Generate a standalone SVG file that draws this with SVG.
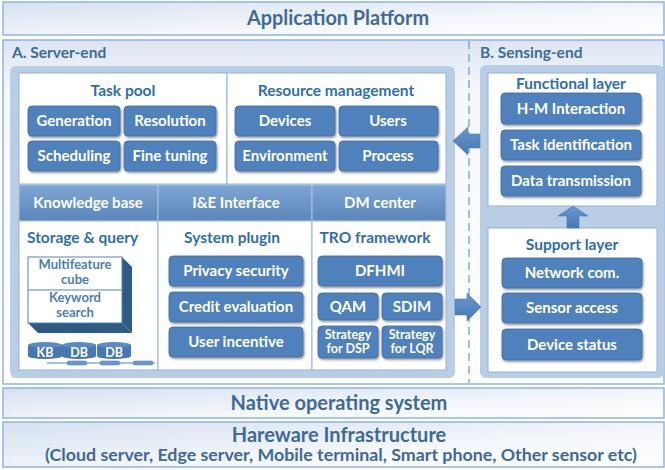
<svg xmlns="http://www.w3.org/2000/svg" width="665" height="470" viewBox="0 0 665 470">
<defs>
<linearGradient id="gBar" x1="0" y1="0" x2="1" y2="1">
<stop offset="0" stop-color="#d5e1f0"/><stop offset="0.6" stop-color="#f4f7fb"/><stop offset="1" stop-color="#ffffff"/>
</linearGradient>
<linearGradient id="gMain" x1="0" y1="0" x2="0" y2="1">
<stop offset="0" stop-color="#dbe5f1"/><stop offset="0.15" stop-color="#f5f8fc"/><stop offset="1" stop-color="#ffffff"/>
</linearGradient>
<linearGradient id="gBand" x1="0" y1="0" x2="0" y2="1">
<stop offset="0" stop-color="#7ea6d4"/><stop offset="1" stop-color="#5a86bb"/>
</linearGradient>
<linearGradient id="gArrow" x1="0" y1="0" x2="0" y2="1">
<stop offset="0" stop-color="#6a98cf"/><stop offset="1" stop-color="#4677b3"/>
</linearGradient>
<filter id="sh" x="-10%" y="-20%" width="125%" height="150%">
<feDropShadow dx="1" dy="1.5" stdDeviation="1" flood-color="#000" flood-opacity="0.45"/>
</filter>
<style>
text{font-family:Lato,"Open Sans","Liberation Sans",sans-serif;font-weight:bold}
.bar{fill:url(#gBar);stroke:#8eb4e3;stroke-width:1.5}
.hdr{fill:#3e6a98;font-size:20px;text-anchor:middle}
.sec{fill:#3e6a98;font-size:15.5px}
.panel{fill:#b9cde5}
.wp{fill:#ffffff;stroke:#8eb4e3;stroke-width:1}
.ttl{fill:#2e6eb0;font-size:15.5px;text-anchor:middle}
.btn{fill:#4f81bd;stroke:#3f6c9f;stroke-width:0.8;filter:url(#sh)}
.bt{fill:#ffffff;font-size:15px;text-anchor:middle}
.bs{fill:#ffffff;font-size:12.5px;text-anchor:middle}
.band{fill:url(#gBand);stroke:#a9c3e3;stroke-width:1}
.cube{fill:#4a7eb8;font-size:13px;text-anchor:middle}
.arr{fill:url(#gArrow);stroke:#4a7ab3;stroke-width:0.6}
</style>
</defs>

<g id="application-platform">
<rect class="bar" x="3" y="2" width="661" height="33"/>
<text class="hdr" x="338" y="25" textLength="182" lengthAdjust="spacingAndGlyphs">Application Platform</text>
</g>

<g id="middle-frame">
<rect x="3" y="40" width="661" height="344" fill="url(#gMain)" stroke="#8eb4e3" stroke-width="1.5"/>
<line x1="469" y1="41" x2="469" y2="383" stroke="#5b9bd5" stroke-width="1.2" stroke-dasharray="8,5"/>
</g>

<g id="server-end">
<text class="sec" x="12" y="58">A. Server-end</text>
<rect class="panel" x="10" y="66" width="445" height="312" rx="6"/>
</g>

<g id="task-pool">
<rect class="wp" x="19" y="73" width="208" height="111"/>
<text class="ttl" x="123" y="96">Task pool</text>
<rect class="btn" x="28" y="106" width="92" height="30" rx="4"/>
<text class="bt" x="74" y="126">Generation</text>
<rect class="btn" x="124" y="106" width="92" height="30" rx="4"/>
<text class="bt" x="170" y="126">Resolution</text>
<rect class="btn" x="28" y="141" width="92" height="30" rx="4"/>
<text class="bt" x="74" y="161">Scheduling</text>
<rect class="btn" x="124" y="141" width="92" height="30" rx="4"/>
<text class="bt" x="170" y="161">Fine tuning</text>
</g>

<g id="resource-management">
<rect class="wp" x="227" y="73" width="219" height="111"/>
<text class="ttl" x="336" y="96">Resource management</text>
<rect class="btn" x="235" y="106" width="100" height="30" rx="4"/>
<text class="bt" x="285" y="126">Devices</text>
<rect class="btn" x="339" y="106" width="99" height="30" rx="4"/>
<text class="bt" x="388" y="126">Users</text>
<rect class="btn" x="235" y="141" width="100" height="30" rx="4"/>
<text class="bt" x="285" y="161">Environment</text>
<rect class="btn" x="339" y="141" width="99" height="30" rx="4"/>
<text class="bt" x="388" y="161">Process</text>
</g>

<g id="knowledge-base">
<rect class="band" x="19" y="185" width="139" height="36"/>
<text class="bt" x="88" y="208">Knowledge base</text>
</g>
<g id="ie-interface">
<rect class="band" x="158" y="185" width="154" height="36"/>
<text class="bt" x="236" y="208">I&amp;E Interface</text>
</g>
<g id="dm-center">
<rect class="band" x="312" y="185" width="134" height="36"/>
<text class="bt" x="380" y="208">DM center</text>
</g>

<g id="storage-query">
<rect class="wp" x="19" y="221" width="139" height="149"/>
<text class="sec" x="27" y="243" style="fill:#2e6eb0">Storage &amp; query</text>
<polygon points="122,257 132,267 132,333 122,323" fill="#2f5a86"/>
<polygon points="28,323 122,323 132,333 38,333" fill="#2f5a86"/>
<rect x="28" y="257" width="94" height="66" fill="#ffffff" stroke="#4f81bd" stroke-width="1"/>
<line x1="28" y1="290" x2="122" y2="290" stroke="#4f81bd" stroke-width="1"/>
<text class="cube" x="75" y="269">Multifeature</text>
<text class="cube" x="75" y="284">cube</text>
<text class="cube" x="75" y="302">Keyword</text>
<text class="cube" x="75" y="317">search</text>
<path d="M28,345 v11 a17,3 0 0 0 34,0 v-11 z" fill="#4677b3"/>
<ellipse cx="45" cy="345" rx="17" ry="3" fill="#5b8bc5"/>
<path d="M62,345 v11 a17,3 0 0 0 34,0 v-11 z" fill="#4677b3"/>
<ellipse cx="79" cy="345" rx="17" ry="3" fill="#5b8bc5"/>
<path d="M97,345 v11 a17,3 0 0 0 34,0 v-11 z" fill="#4677b3"/>
<ellipse cx="114" cy="345" rx="17" ry="3" fill="#5b8bc5"/>
<text class="bs" x="45" y="357">KB</text>
<text class="bs" x="79" y="357">DB</text>
<text class="bs" x="114" y="357">DB</text>
<line x1="47" y1="363" x2="155" y2="363" stroke="#4f81bd" stroke-width="1"/>
<rect x="67" y="361" width="20" height="4" rx="2" fill="#6f98c8" stroke="#4f81bd" stroke-width="0.6"/>
<rect x="100" y="361" width="20" height="4" rx="2" fill="#6f98c8" stroke="#4f81bd" stroke-width="0.6"/>
<rect x="133" y="361" width="20" height="4" rx="2" fill="#6f98c8" stroke="#4f81bd" stroke-width="0.6"/>
</g>

<g id="system-plugin">
<rect class="wp" x="158" y="221" width="154" height="149"/>
<text class="ttl" x="232" y="243">System plugin</text>
<rect class="btn" x="169" y="256" width="134" height="30" rx="4"/>
<text class="bt" x="236" y="276">Privacy security</text>
<rect class="btn" x="169" y="292" width="134" height="30" rx="4"/>
<text class="bt" x="236" y="312">Credit evaluation</text>
<rect class="btn" x="169" y="327" width="134" height="30" rx="4"/>
<text class="bt" x="236" y="347">User incentive</text>
</g>

<g id="tro-framework">
<rect class="wp" x="312" y="221" width="134" height="149"/>
<text class="ttl" x="375" y="243">TRO framework</text>
<rect class="btn" x="318" y="256" width="124" height="30" rx="4"/>
<text class="bt" x="380" y="276">DFHMI</text>
<rect class="btn" x="318" y="293" width="60" height="27" rx="4"/>
<text class="bt" x="348" y="312">QAM</text>
<rect class="btn" x="382" y="293" width="60" height="27" rx="4"/>
<text class="bt" x="412" y="312">SDIM</text>
<rect class="btn" x="318" y="326" width="60" height="32" rx="4"/>
<text class="bs" x="348" y="339">Strategy</text>
<text class="bs" x="348" y="353">for DSP</text>
<rect class="btn" x="382" y="326" width="60" height="32" rx="4"/>
<text class="bs" x="412" y="339">Strategy</text>
<text class="bs" x="412" y="353">for LQR</text>
</g>

<g id="sensing-end">
<text class="sec" x="480" y="58">B. Sensing-end</text>
<rect class="panel" x="480" y="65" width="184" height="313" rx="6"/>
</g>

<g id="functional-layer">
<rect class="wp" x="488" y="73" width="169" height="133"/>
<text class="ttl" x="571" y="89">Functional layer</text>
<rect class="btn" x="501" y="93" width="140" height="31" rx="4"/>
<text class="bt" x="571" y="114">H-M Interaction</text>
<rect class="btn" x="501" y="130" width="140" height="30" rx="4"/>
<text class="bt" x="571" y="150">Task identification</text>
<rect class="btn" x="501" y="166" width="140" height="30" rx="4"/>
<text class="bt" x="571" y="186">Data transmission</text>
</g>

<g id="support-layer">
<rect class="wp" x="488" y="228" width="169" height="144"/>
<text class="ttl" x="572" y="250">Support layer</text>
<rect class="btn" x="502" y="258" width="140" height="30" rx="4"/>
<text class="bt" x="572" y="278">Network com.</text>
<rect class="btn" x="502" y="293" width="140" height="30" rx="4"/>
<text class="bt" x="572" y="313">Sensor access</text>
<rect class="btn" x="502" y="329" width="140" height="31" rx="4"/>
<text class="bt" x="572" y="350">Device status</text>
</g>

<g id="connectors">
<polygon class="arr" points="480,134 468,134 468,127 453,141 468,155 468,148 480,148"/>
<polygon class="arr" points="455,299 467,299 467,293 481,307 467,321 467,315 455,315"/>
<polygon class="arr" points="567,228 567,216 558,216 573,206 588,216 579,216 579,228"/>
</g>

<g id="native-os">
<rect class="bar" x="3" y="388" width="661" height="30"/>
<text class="hdr" x="339" y="410">Native operating system</text>
</g>

<g id="hardware">
<rect class="bar" x="3" y="422" width="661" height="45"/>
<text class="hdr" x="339" y="442">Hareware Infrastructure</text>
<text class="hdr" x="341" y="461" style="font-size:17px" textLength="592" lengthAdjust="spacingAndGlyphs">(Cloud server, Edge server, Mobile terminal, Smart phone, Other sensor etc)</text>
</g>
</svg>
